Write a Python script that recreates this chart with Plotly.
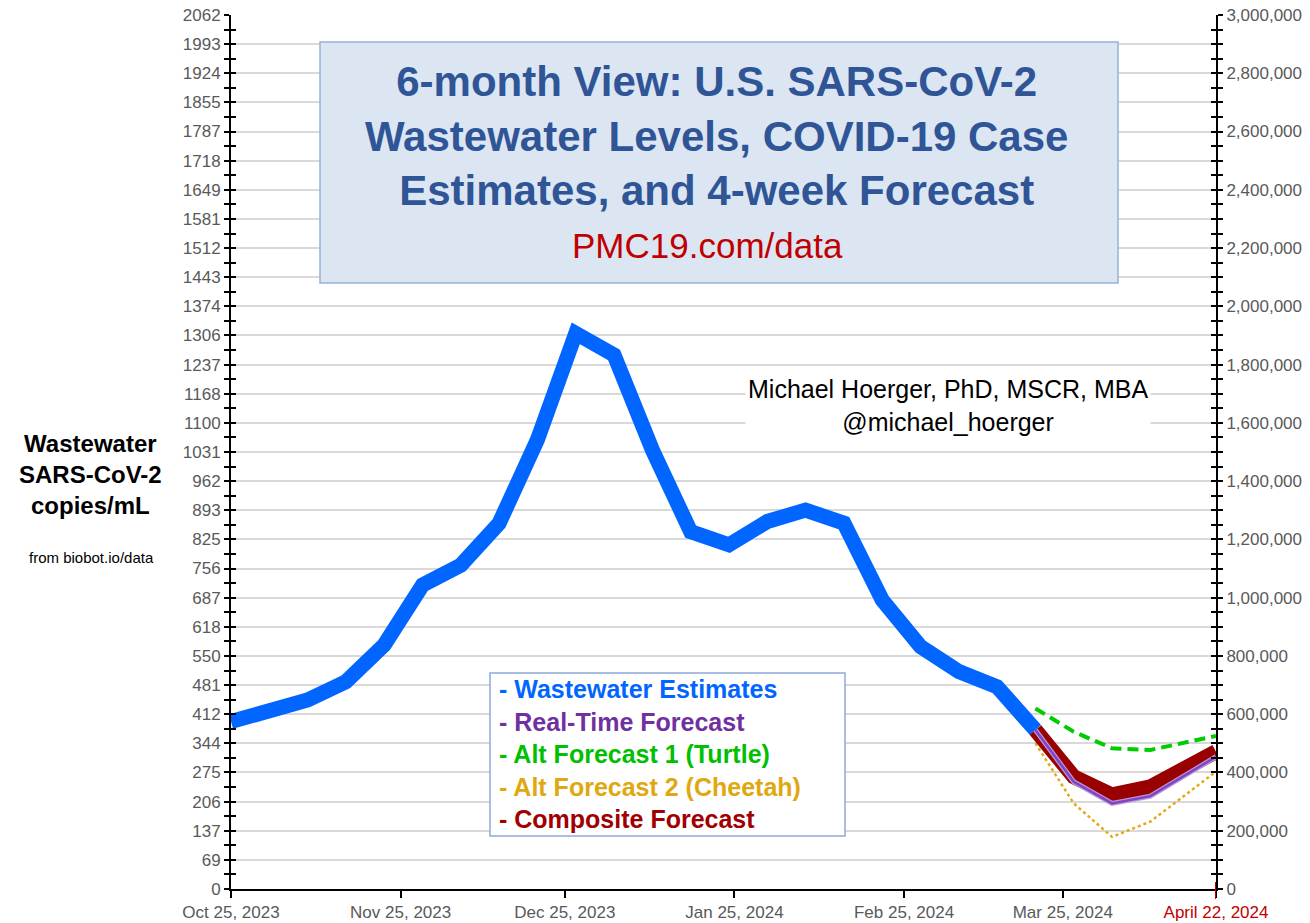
import plotly.graph_objects as go

# ---------------- data ----------------
ww_dates = ["2023-10-25", "2023-11-01", "2023-11-08", "2023-11-15", "2023-11-22",
            "2023-11-29", "2023-12-06", "2023-12-13", "2023-12-20", "2023-12-27",
            "2024-01-03", "2024-01-10", "2024-01-17", "2024-01-24", "2024-01-31",
            "2024-02-07", "2024-02-14", "2024-02-21", "2024-02-28", "2024-03-06",
            "2024-03-13", "2024-03-20"]
ww_values = [395, 420, 446, 489, 576, 717, 764, 863, 1060, 1311,
             1260, 1036, 843, 812, 867, 894, 863, 682, 572, 513,
             477, 375]

fc_dates = ["2024-03-20", "2024-03-27", "2024-04-03", "2024-04-10", "2024-04-22"]
realtime_fc = [375, 253, 202, 219, 312]
composite_fc = [375, 265, 222, 241, 324]
turtle_fc = [426, 371, 332, 328, 361]
cheetah_fc = [344, 202, 123, 159, 277]

left_tick_labels = ["0", "69", "137", "206", "275", "344", "412", "481", "550", "618",
                    "687", "756", "825", "893", "962", "1031", "1100", "1168", "1237",
                    "1306", "1374", "1443", "1512", "1581", "1649", "1718", "1787",
                    "1855", "1924", "1993", "2062"]
left_max = 2062
right_tick_values = [0, 200000, 400000, 600000, 800000, 1000000, 1200000, 1400000,
                     1600000, 1800000, 2000000, 2200000, 2400000, 2600000, 2800000, 3000000]
right_max = 3000000
x_tick_dates = ["2023-10-25", "2023-11-25", "2023-12-25", "2024-01-25",
                "2024-02-25", "2024-03-25", "2024-04-22"]
x_tick_labels = ["Oct 25, 2023", "Nov 25, 2023", "Dec 25, 2023", "Jan 25, 2024",
                 "Feb 25, 2024", "Mar 25, 2024", "April 22, 2024"]

legend_items = [("- Wastewater Estimates", "#0066FF"),
                ("- Real-Time Forecast", "#7030A0"),
                ("- Alt Forecast 1 (Turtle)", "#00C000"),
                ("- Alt Forecast 2 (Cheetah)", "#E0A810"),
                ("- Composite Forecast", "#A00000")]

# ---------------- layout helpers ----------------
W, H = 1310, 923
L, R, T, B = 231, 1216, 15, 889


def px(x):
    return (x - L) / (R - L)


def py(y):
    return (B - y) / (B - T)


FONT = "Liberation Sans, Arial, sans-serif"
TICKCOL = "#595959"

left_tickvals = [i * left_max / (len(left_tick_labels) - 1) for i in range(len(left_tick_labels))]
minor_dtick_left = left_max / ((len(left_tick_labels) - 1) * 2)

fig = go.Figure()

fig.add_trace(go.Scatter(x=ww_dates, y=ww_values, mode="lines",
                         line=dict(color="#0066FF", width=15), hoverinfo="skip"))
fig.add_trace(go.Scatter(x=fc_dates, y=cheetah_fc, mode="lines",
                         line=dict(color="#E6A817", width=2.5, dash="dot"), hoverinfo="skip"))
fig.add_trace(go.Scatter(x=fc_dates, y=turtle_fc, mode="lines",
                         line=dict(color="#00CC00", width=4, dash="11px,6px"), hoverinfo="skip"))
fig.add_trace(go.Scatter(x=fc_dates, y=composite_fc, mode="lines",
                         line=dict(color="#990000", width=15), hoverinfo="skip"))
fig.add_trace(go.Scatter(x=fc_dates, y=realtime_fc, mode="lines",
                         line=dict(color="#B894E0", width=5), hoverinfo="skip"))
fig.add_trace(go.Scatter(x=fc_dates, y=realtime_fc, mode="lines",
                         line=dict(color="#7F45C0", width=2.5), hoverinfo="skip"))

# dummy traces so the overlay axes exist
for ax in ["y2", "y3", "y4"]:
    fig.add_trace(go.Scatter(x=[ww_dates[0]], y=[None], yaxis=ax, mode="lines",
                             showlegend=False, hoverinfo="skip"))

xticktext = x_tick_labels[:-1] + ['<span style="color:#C00000">' + x_tick_labels[-1] + '</span>']

fig.update_layout(
    width=W, height=H,
    margin=dict(l=L, r=W - R, t=T, b=H - B, autoexpand=False),
    plot_bgcolor="white", paper_bgcolor="white",
    showlegend=False,
    font=dict(family=FONT, color=TICKCOL),
    xaxis=dict(type="date", range=[x_tick_dates[0], x_tick_dates[-1]],
               tickvals=x_tick_dates, ticktext=xticktext, automargin=False,
               ticks="outside", ticklen=7, tickwidth=2, tickcolor="black",
               showline=True, linecolor="black", linewidth=2,
               showgrid=False, zeroline=False,
               tickfont=dict(size=17, color=TICKCOL, family=FONT)),
    yaxis=dict(range=[0, left_max], tickvals=left_tickvals, ticktext=left_tick_labels,
               automargin=False,
               ticks="outside", ticklen=5, tickwidth=2, tickcolor="black",
               showline=True, linecolor="black", linewidth=2,
               showgrid=True, gridcolor="#D9D9D9", gridwidth=1.5, zeroline=False,
               tickfont=dict(size=17, color=TICKCOL, family=FONT),
               minor=dict(tick0=0, dtick=minor_dtick_left, ticks="outside", ticklen=5,
                          tickwidth=2, tickcolor="black", showgrid=False)),
    yaxis3=dict(range=[0, left_max], overlaying="y", side="left", anchor="x",
                automargin=False,
                tickvals=left_tickvals, ticks="inside", ticklen=5, tickwidth=2,
                tickcolor="black", showticklabels=False, showgrid=False,
                showline=False, zeroline=False,
                minor=dict(tick0=0, dtick=minor_dtick_left, ticks="inside", ticklen=5,
                           tickwidth=2, tickcolor="black", showgrid=False)),
    yaxis2=dict(range=[0, right_max], overlaying="y", side="right", anchor="x",
                automargin=False,
                tickvals=right_tick_values, ticktext=[f"{v:,}" for v in right_tick_values],
                ticks="outside", ticklen=5, tickwidth=2, tickcolor="black",
                showline=True, linecolor="black", linewidth=2,
                showgrid=False, zeroline=False,
                tickfont=dict(size=17, color=TICKCOL, family=FONT),
                minor=dict(tick0=0, dtick=50000, ticks="outside", ticklen=5,
                           tickwidth=2, tickcolor="black", showgrid=False)),
    yaxis4=dict(range=[0, right_max], overlaying="y", side="right", anchor="x",
                automargin=False,
                tickvals=right_tick_values, ticks="inside", ticklen=5, tickwidth=2,
                tickcolor="black", showticklabels=False, showgrid=False,
                showline=False, zeroline=False,
                minor=dict(tick0=0, dtick=50000, ticks="inside", ticklen=5,
                           tickwidth=2, tickcolor="black", showgrid=False)),
)

shapes = [
    # title box
    dict(type="rect", xref="paper", yref="paper", x0=px(320), x1=px(1118),
         y0=py(283), y1=py(42), fillcolor="#DCE6F2",
         line=dict(color="#95B3D7", width=1.5), layer="above"),
    # legend box
    dict(type="rect", xref="paper", yref="paper", x0=px(490), x1=px(845),
         y0=py(836), y1=py(673), fillcolor="white",
         line=dict(color="#8EA9DB", width=1.5), layer="above"),
    # red tick at forecast end
    dict(type="line", xref="x", yref="paper", x0=x_tick_dates[-1], x1=x_tick_dates[-1],
         y0=py(899), y1=py(882), line=dict(color="#C00000", width=2), layer="above"),
]
fig.update_layout(shapes=shapes)

legend_text = "<br>".join(f'<span style="color:{c}">{t}</span>' for t, c in legend_items)

annotations = [
    dict(text="<b>6-month View: U.S. SARS-CoV-2<br>Wastewater Levels, COVID-19 Case<br>"
              "Estimates, and 4-week Forecast</b>",
         x=px(716), y=py(136), xanchor="center", yanchor="middle",
         font=dict(size=42, color="#2F5597", family=FONT)),
    dict(text="PMC19.com/data", x=px(707), y=py(246), xanchor="center", yanchor="middle",
         font=dict(size=35, color="#C00000", family=FONT)),
    dict(text="<b>Wastewater<br>SARS-CoV-2<br>copies/mL</b>", x=px(90), y=py(474),
         xanchor="center", yanchor="middle", font=dict(size=24, color="black", family=FONT)),
    dict(text="from biobot.io/data", x=px(91), y=py(557), xanchor="center", yanchor="middle",
         font=dict(size=15, color="black", family=FONT)),
    dict(text="Michael Hoerger, PhD, MSCR, MBA<br>@michael_hoerger", x=px(948), y=py(406),
         xanchor="center", yanchor="middle", bgcolor="white", borderpad=2,
         font=dict(size=25, color="black", family=FONT)),
    dict(text="<b>" + legend_text + "</b>", x=px(497), y=py(754), xanchor="left",
         yanchor="middle", align="left", font=dict(size=25, family=FONT)),
]
for a in annotations:
    a.setdefault("xref", "paper")
    a.setdefault("yref", "paper")
    a["showarrow"] = False
fig.update_layout(annotations=annotations)

fig.write_html("out.html",
               config={"displayModeBar": False},
               post_script="document.body.style.margin='0px';"
                           "document.body.style.overflow='hidden';")
